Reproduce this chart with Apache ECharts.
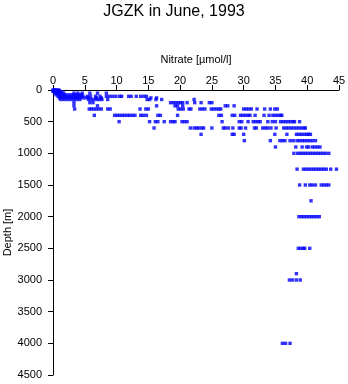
<!DOCTYPE html>
<html>
<head>
<meta charset="utf-8">
<script src="https://cdn.jsdelivr.net/npm/echarts@6/dist/echarts.min.js"></script>
<style>html,body{margin:0;padding:0;background:#fff;}#c{width:348px;height:384px;}</style>
</head>
<body>
<div id="c"></div>
<script>
// Sampling depths [m]
const depths = [0, 10, 20, 30, 50, 75, 100, 125, 150, 200, 250, 300, 400, 500, 600, 700, 800, 900, 1000, 1250, 1500, 1750, 2000, 2500, 2900, 3000, 4000];
// Nitrate [µmol/l] observed at each depth (one list per depth)
const n0 = [0.0, 0.2, 0.4, 0.6, 0.9];
const n10 = [0.1, 0.3, 0.5, 0.8, 1.0];
const n20 = [0.0, 0.3, 0.6, 0.9];
const n30 = [0.2, 0.5, 0.8, 1.1, 1.4];
const n50 = [0.3, 0.7, 1.2, 1.7, 3.3, 3.9, 4.6, 5.8, 7.0, 8.4];
const n75 = [0.5, 1.0, 1.5, 2.0, 2.5, 3.0, 3.5, 4.0, 4.5];
const n100 = [0.8, 1.2, 1.7, 2.2, 2.7, 3.2, 3.7, 4.2, 4.7, 5.4, 5.9, 6.7, 7.4, 8.4, 8.9, 9.4, 9.9, 10.5, 10.8, 11.9, 12.3, 13.1, 13.8, 14.3, 14.7];
const n125 = [1.0, 1.5, 2.0, 2.5, 3.0, 3.5, 4.0, 4.5, 5.0, 5.5, 6.8, 7.6, 15.4, 16.3];
const n150 = [1.2, 1.7, 2.2, 2.7, 3.2, 3.7, 4.2, 5.6, 6.0, 6.4, 6.9, 7.3, 7.7, 8.6, 14.8, 15.2, 16.2, 17.1, 22.2];
const n200 = [3.3, 5.8, 6.3, 18.5, 18.9, 19.3, 19.7, 20.1, 20.4, 21.1, 22.3, 23.3, 24.6, 25.0];
const n250 = [3.3, 7.0, 16.3, 19.2, 19.6, 20.4, 27.1, 27.5, 28.5];
const n300 = [3.4, 5.7, 6.0, 6.4, 6.8, 7.2, 7.6, 8.6, 9.0, 13.7, 14.6, 15.0, 19.7, 20.1, 20.5, 21.4, 21.7, 23.1, 23.5, 23.9, 24.9, 25.3, 25.7, 26.1, 26.4, 30.0, 30.4, 30.8, 31.2, 32.1, 33.3, 34.2, 34.9, 35.3];
const n400 = [6.5, 9.7, 10.1, 10.5, 10.9, 11.3, 11.7, 12.1, 12.5, 12.9, 13.8, 14.2, 14.7, 16.5, 16.9, 19.6, 26.1, 26.5, 28.2, 28.6, 29.5, 29.9, 30.3, 30.7, 31.0, 31.8, 33.2, 34.0, 34.6, 35.0, 35.4, 35.8, 36.0];
const n500 = [10.4, 15.2, 16.1, 16.5, 17.5, 18.5, 18.9, 19.2, 20.3, 20.7, 21.1, 26.6, 29.3, 29.7, 30.7, 31.5, 31.9, 32.3, 32.6, 33.8, 34.5, 35.0, 35.8, 36.2, 36.6, 37.0, 37.4, 37.8, 38.0, 38.8];
const n600 = [15.9, 21.6, 22.2, 22.6, 22.9, 23.4, 23.7, 25.0, 26.8, 27.1, 27.6, 28.3, 29.3, 29.6, 30.3, 31.7, 32.0, 33.0, 33.4, 33.8, 34.3, 35.1, 36.3, 36.7, 37.1, 37.5, 37.9, 38.3, 38.7, 39.1, 39.5, 39.7];
const n700 = [23.3, 28.2, 28.5, 30.0, 34.9, 36.8, 38.3, 38.7, 39.1, 39.5, 39.9, 40.2, 40.5];
const n800 = [30.1, 34.2, 35.7, 36.1, 36.5, 37.3, 37.8, 38.4, 38.8, 39.2, 39.6, 40.0, 40.4, 40.8, 41.3];
const n900 = [35.0, 38.2, 39.2, 39.9, 40.2, 40.8, 41.2, 41.6, 42.0];
const n1000 = [37.9, 38.5, 38.9, 39.3, 39.7, 40.1, 40.5, 40.9, 41.3, 41.7, 42.1, 42.5, 42.9, 43.4];
const n1250 = [38.4, 39.4, 39.8, 40.2, 40.6, 41.0, 41.4, 41.8, 42.2, 42.6, 43.0, 43.7, 44.6];
const n1500 = [38.8, 39.7, 40.4, 40.8, 41.3, 42.2, 42.6, 43.0, 43.4];
const n1750 = [40.6];
const n2000 = [38.7, 39.1, 39.5, 39.9, 40.3, 40.7, 41.1, 41.5, 41.9];
const n2500 = [38.6, 39.0, 39.4, 39.6, 40.4];
const n2900 = [38.3];
const n3000 = [37.2, 37.7, 38.3, 38.9];
const n4000 = [36.1, 36.6, 37.3];
const nitrateRows = [n0, n10, n20, n30, n50, n75, n100, n125, n150, n200, n250, n300, n400, n500, n600, n700, n800, n900, n1000, n1250, n1500, n1750, n2000, n2500, n2900, n3000, n4000];
// Axis ticks
const xTicks = [0, 5, 10, 15, 20, 25, 30, 35, 40, 45];
const yTicks = [0, 500, 1000, 1500, 2000, 2500, 3000, 3500, 4000, 4500];

const points = [];
depths.forEach((d, i) => nitrateRows[i].forEach(v => points.push([v, d])));

const font = 'Liberation Sans, Arial, Helvetica, sans-serif';
const chart = echarts.init(document.getElementById('c'), null, {renderer: 'canvas'});
chart.setOption({
  animation: false,
  backgroundColor: '#ffffff',
  title: {
    text: 'JGZK in June, 1993', left: 'center', top: -1,
    textStyle: {fontFamily: font, fontSize: 16, fontWeight: 'normal', color: '#000'}
  },
  grid: {left: 53, right: 9, top: 90, bottom: 9, containLabel: false, outerBoundsMode: 'none'},
  xAxis: {
    type: 'value', position: 'top',
    min: xTicks[0], max: xTicks[xTicks.length - 1], interval: 5,
    name: 'Nitrate [µmol/l]', nameLocation: 'middle', nameGap: 25, nameMoveOverlap: false,
    nameTextStyle: {fontFamily: font, fontSize: 11, color: '#000'},
    axisLine: {show: true, onZero: false, lineStyle: {color: '#000', width: 1}},
    axisTick: {show: true, length: 5, lineStyle: {color: '#000'}},
    axisLabel: {margin: 4, fontFamily: font, fontSize: 11, color: '#000', formatter: v => String(v)},
    splitLine: {show: false}
  },
  yAxis: {
    type: 'value', inverse: true,
    min: yTicks[0], max: yTicks[yTicks.length - 1], interval: 500,
    name: 'Depth [m]', nameLocation: 'middle', nameGap: 40, nameMoveOverlap: false,
    nameTextStyle: {fontFamily: font, fontSize: 11, color: '#000', verticalAlign: 'bottom'},
    axisLine: {show: true, onZero: false, lineStyle: {color: '#000', width: 1}},
    axisTick: {show: true, length: 5, lineStyle: {color: '#000'}},
    axisLabel: {margin: 11, fontFamily: font, fontSize: 11, color: '#000', formatter: v => String(v)},
    splitLine: {show: false}
  },
  series: [{
    type: 'scatter', data: points, symbol: 'rect', symbolSize: 3.4,
    itemStyle: {color: '#0000ff'}, silent: true
  }]
});
</script>
</body>
</html>
